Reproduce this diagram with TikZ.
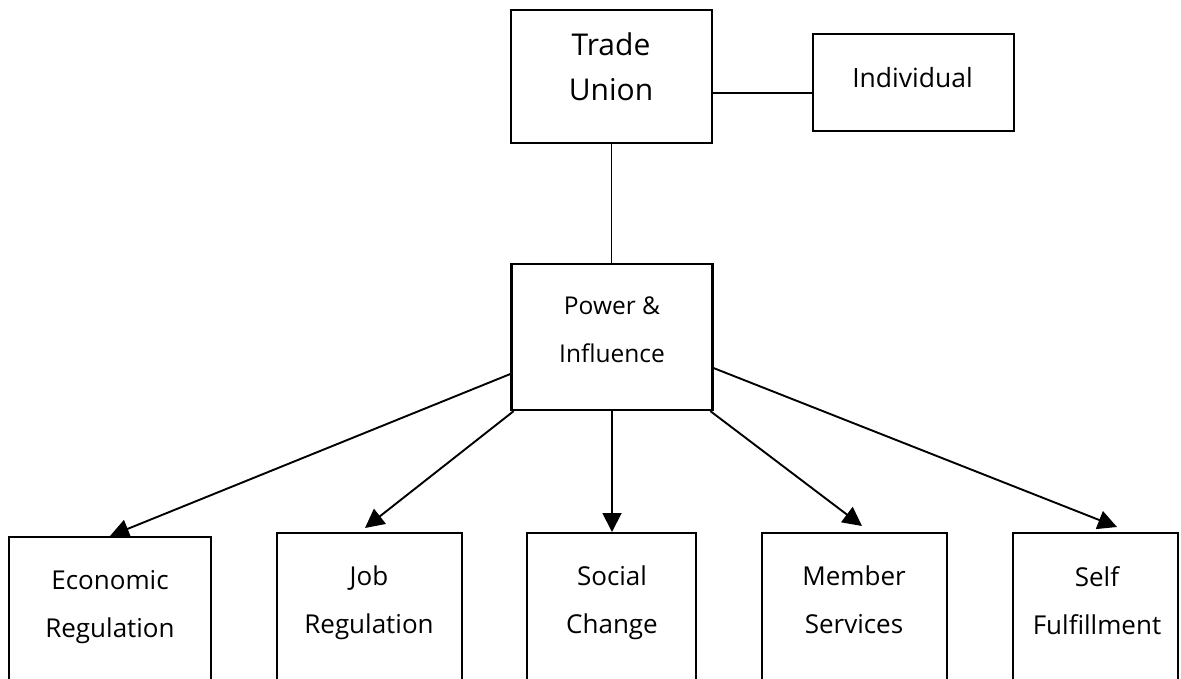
\documentclass[tikz,border=0pt]{standalone}
\usepackage{fontspec}
\setmainfont{Open Sans}
\usetikzlibrary{arrows.meta,calc}

\begin{document}
\begin{tikzpicture}[x=1pt, y=-1pt,
	box/.style={draw, line width=2.3pt, inner sep=0pt},
	txt/.style={align=center, inner sep=0pt, anchor=north},
	link/.style={line width=1.9pt},
	arr/.style={link, -{Triangle[length=19pt,width=19pt]}}]
% page size, bottom boxes run off the page
	\useasboundingbox (0,0) rectangle (1181,678);
	\clip (0,0) rectangle (1181,678);

% top boxes
	\node[box, minimum width=201pt, minimum height=133pt] (union) at (611.5,76.5) {};
	\node[box, minimum width=201pt, minimum height=97pt] (indiv) at (913.5,82.5) {};
	\node[box, minimum width=201pt, minimum height=146pt] (power) at (612,337) {};
	\node[txt, font=\fontsize{30}{45}\selectfont] (uniontxt) at (611,32.5) {Trade\\Union};
	\node[txt, font=\fontsize{26.5}{32}\selectfont] (indivtxt) at (912.5,67.5) {Individual};
	\node[txt, font=\fontsize{24.5}{47.5}\selectfont] (powertxt) at (612,297) {Power \&\\Influence};

% bottom boxes
	\node[box, anchor=north, minimum width=202pt, minimum height=200pt] (econ) at (110,536) {};
	\node[box, anchor=north, minimum width=185pt, minimum height=200pt] (job) at (369.5,532) {};
	\node[box, anchor=north, minimum width=169pt, minimum height=200pt] (social) at (611.5,532) {};
	\node[box, anchor=north, minimum width=185pt, minimum height=200pt] (member) at (854.5,532) {};
	\node[box, anchor=north, minimum width=165pt, minimum height=200pt] (self) at (1095.5,532) {};
	\begin{scope}[every node/.style={txt, font=\fontsize{26}{48}\selectfont}]
		\node (econtxt) at (110,570) {Economic\\Regulation};
		\node (jobtxt) at (369,566) {Job\\Regulation};
		\node (socialtxt) at (612,566) {Social\\Change};
		\node (membertxt) at (854,566) {Member\\Services};
		\node (selftxt) at (1097,566) {Self\\Fulfillment};
	\end{scope}

% connectors
	\draw[link] ([yshift=-16.5pt]union.east) -- ([yshift=-10.5pt]indiv.west);
	\draw[link] (union.south) -- (union.south |- power.north);
	\draw[arr] (power.200.6) -- (econ.north);
	\draw[arr] (power.217.5) -- ($(job.north)+(-4.5,-4)$);
	\draw[arr] (power.south) -- (power.south |- social.north);
	\draw[arr] (power.-37.3) -- ($(member.north)+(7.5,-6)$);
	\draw[arr] (power.-17.2) -- ($(self.north)+(21.5,-5)$);
\end{tikzpicture}
\end{document}
